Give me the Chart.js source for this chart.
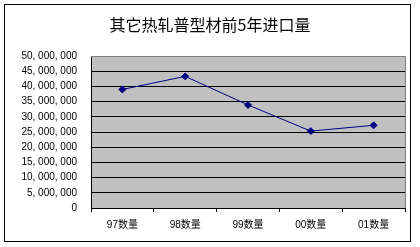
<!DOCTYPE html>
<html>
<head>
<meta charset="utf-8">
<script src="https://cdn.jsdelivr.net/npm/chart.js@4"></script>
<style>
body { margin: 0; background: #fff; }
</style>
</head>
<body>
<canvas id="chart" width="420" height="247"></canvas>
<script>
// 数据
const titleText = '其它热轧普型材前5年进口量'
const labelsYears = ['97数量', '98数量', '99数量', '00数量', '01数量']
const dataImport = [39000000, 43300000, 33900000, 25300000, 27200000]
const yMax = 50000000
const yStep = 5000000

function fmtNum(v) {
	return String(v).replace(/\B(?=(\d{3})+(?!\d))/g, ', ')
}

// 背景、边框
const framePlugin = {
	id: 'frame',
	beforeDraw(chart) {
		const c = chart.ctx
		c.save()
		c.fillStyle = '#fff'
		c.fillRect(0, 0, chart.width, chart.height)
		c.strokeStyle = '#000'
		c.lineWidth = 1
		c.strokeRect(4.5, 4.5, 406, 237)
		const a = chart.chartArea
		c.fillStyle = '#c0c0c0'
		c.fillRect(a.left, a.top, a.right - a.left, a.bottom - a.top)
		c.restore()
	},
	afterDatasetsDraw(chart) {
		const c = chart.ctx
		const a = chart.chartArea
		c.save()
		c.strokeStyle = '#808080'
		c.lineWidth = 1
		c.beginPath()
		c.moveTo(a.left, Math.round(a.top) + 0.5)
		c.lineTo(Math.round(a.right) + 0.5, Math.round(a.top) + 0.5)
		c.lineTo(Math.round(a.right) + 0.5, a.bottom)
		c.stroke()
		c.restore()
	}
}

const ctx = document.getElementById('chart').getContext('2d')
const chart = new Chart(ctx, {
	type: 'line',
	data: {
		labels: labelsYears,
		datasets: [{
			data: dataImport,
			borderColor: '#000080',
			backgroundColor: '#000080',
			borderWidth: 1,
			pointStyle: 'rectRot',
			pointRadius: 3.5,
			pointBorderWidth: 1,
			tension: 0
		}]
	},
	options: {
		responsive: false,
		animation: false,
		layout: {
			padding: { left: 0, right: 0, top: 0, bottom: 9 }
		},
		plugins: {
			legend: { display: false },
			tooltip: { enabled: false },
			title: {
				display: true,
				text: titleText,
				color: '#000',
				font: { family: '"Noto Sans CJK SC"', size: 16, weight: 'normal' },
				padding: { top: 15.4, bottom: 21.4 }
			}
		},
		scales: {
			x: {
				offset: true,
				afterFit(scale) { scale.height = 30 },
				grid: {
					offset: true,
					drawOnChartArea: false,
					drawTicks: true,
					tickLength: 4,
					color: '#000'
				},
				border: { display: true, color: '#000' },
				ticks: {
					color: '#000',
					padding: 7,
					maxRotation: 0,
					font: { family: '"Liberation Sans", "Noto Sans CJK SC"', size: 10 }
				}
			},
			y: {
				min: 0,
				max: yMax,
				afterFit(scale) { scale.width = 91 },
				grid: {
					color: '#000',
					drawTicks: false
				},
				border: { display: true, color: '#000' },
				ticks: {
					stepSize: yStep,
					color: '#000',
					padding: 14,
					font: { family: '"Liberation Sans"', size: 10 },
					callback: (v) => fmtNum(v)
				}
			},
			// 右侧留白
			yRight: {
				position: 'right',
				afterFit(scale) { scale.width = 15 },
				grid: { drawOnChartArea: false, drawTicks: false },
				border: { display: false },
				ticks: { display: false }
			}
		}
	},
	plugins: [framePlugin]
})
</script>
</body>
</html>
